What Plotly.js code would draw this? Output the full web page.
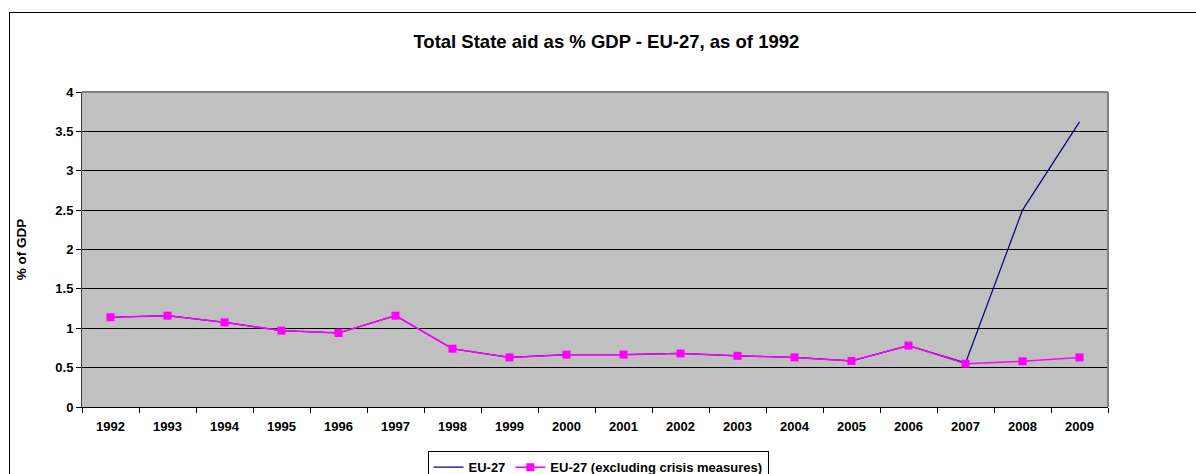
<!DOCTYPE html>
<html>
<head>
<meta charset="utf-8">
<script src="https://cdn.plot.ly/plotly-3.0.1.min.js"></script>
<style>
  html, body { margin: 0; padding: 0; background: #fff; }
  #wrap { position: relative; width: 1196px; height: 474px; overflow: hidden; }
  #chart { width: 1196px; height: 474px; }
  #frame { position: absolute; left: 9px; top: 12px; width: 1300px; height: 600px;
           border-top: 1px solid #000; border-left: 1px solid #000; pointer-events: none; }
</style>
</head>
<body>
<div id="wrap">
  <div id="chart"></div>
  <div id="frame"></div>
</div>
<script>
const years = ['1992','1993','1994','1995','1996','1997','1998','1999','2000','2001','2002','2003','2004','2005','2006','2007','2008','2009'];
const eu27 = [1.14,1.16,1.075,0.97,0.94,1.16,0.74,0.63,0.665,0.665,0.68,0.65,0.63,0.585,0.78,0.56,2.5,3.62];
const eu27ExclCrisis = [1.14,1.16,1.075,0.97,0.94,1.16,0.74,0.63,0.665,0.665,0.68,0.65,0.63,0.585,0.78,0.55,0.58,0.63];
const yTicks = [0,0.5,1,1.5,2,2.5,3,3.5,4];

const font = 'Arial, "Liberation Sans", sans-serif';

const traces = [
  {
    x: years, y: eu27, name: 'EU-27', type: 'scatter', mode: 'lines',
    line: {color: '#000080', width: 1.2}
  },
  {
    x: years, y: eu27ExclCrisis, name: 'EU-27 (excluding crisis measures)', type: 'scatter', mode: 'lines+markers',
    line: {color: '#FF00FF', width: 1.5},
    marker: {symbol: 'square', size: 8, color: '#FF00FF'}
  }
];

const layout = {
  width: 1196, height: 474,
  paper_bgcolor: 'rgba(0,0,0,0)',
  plot_bgcolor: '#C0C0C0',
  margin: {l: 82, r: 88, t: 92, b: 67, autoexpand: false},
  showlegend: true,
  title: {
    text: '<b>Total State aid as % GDP - EU-27, as of 1992</b>',
    font: {family: font, size: 18.5, color: '#000'},
    x: 0.507, xanchor: 'center', y: 0.912, yanchor: 'middle'
  },
  font: {family: font, color: '#000'},
  xaxis: {
    type: 'category',
    range: [-0.5, years.length - 0.5],
    tickson: 'boundaries',
    ticks: 'outside', ticklen: 5, tickcolor: '#000', tickwidth: 1,
    ticklabelstandoff: 7,
    showline: true, linecolor: '#000', linewidth: 1, mirror: false,
    showgrid: false, zeroline: false,
    tickfont: {family: font, size: 13, color: '#000', weight: 'bold'},
    fixedrange: true
  },
  yaxis: {
    range: [0, 4],
    tickvals: yTicks, ticktext: yTicks.map(String),
    ticks: 'outside', ticklen: 5, tickcolor: '#000', tickwidth: 1,
    showline: true, linecolor: '#404040', linewidth: 1,
    showgrid: true, gridcolor: '#000', gridwidth: 1,
    zeroline: false,
    tickfont: {family: font, size: 13, color: '#000', weight: 'bold'},
    title: {text: '<b>% of GDP</b>', font: {family: font, size: 13.5, color: '#000'}, standoff: 25},
    fixedrange: true
  },
  shapes: [
    {type: 'line', xref: 'paper', yref: 'paper', x0: 0, x1: 1, y0: 1, y1: 1, line: {color: '#808080', width: 2}},
    {type: 'line', xref: 'paper', yref: 'paper', x0: 1, x1: 1, y0: 0, y1: 1, line: {color: '#808080', width: 2}}
  ],
  legend: {
    orientation: 'h',
    xref: 'container', yref: 'container',
    x: 0.5, xanchor: 'center',
    y: 0.048, yanchor: 'top',
    bgcolor: '#fff', bordercolor: '#000', borderwidth: 1,
    font: {family: font, size: 13, color: '#000', weight: 'bold'},
    itemwidth: 30,
    tracegroupgap: 0
  }
};

Plotly.newPlot('chart', traces, layout, {displayModeBar: false, staticPlot: true});
</script>
</body>
</html>
